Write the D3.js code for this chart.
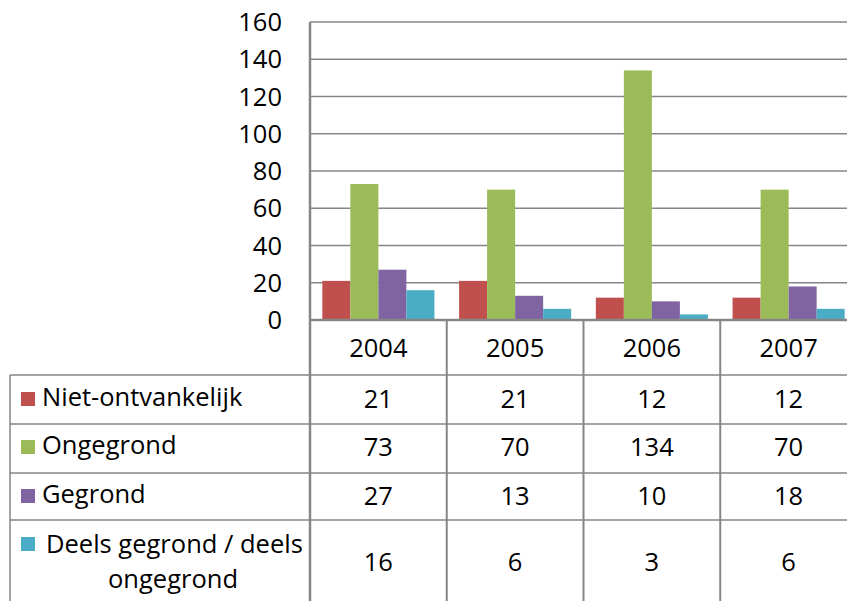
<!DOCTYPE html>
<html lang="nl">
<head>
  <meta charset="UTF-8">
  <title>Uitspraken</title>
  <script src="https://d3js.org/d3.v7.min.js"></script>
</head>
<body style="margin:0;background:#fff">
<script>
  // data
  const years = ["2004", "2005", "2006", "2007"];
  const seriesNames = ["Niet-ontvankelijk", "Ongegrond", "Gegrond", "Deels gegrond / deels ongegrond"];
  const seriesColors = ["#C0504D", "#9BBB59", "#8064A2", "#4BACC6"];
  const nietOntvankelijk = [21, 21, 12, 12];
  const ongegrond = [73, 70, 134, 70];
  const gegrond = [27, 13, 10, 18];
  const deelsGegrond = [16, 6, 3, 6];
  const yTicks = [0, 20, 40, 60, 80, 100, 120, 140, 160];

  const values = [nietOntvankelijk, ongegrond, gegrond, deelsGegrond];

  const W = 847, H = 601;
  const font = "'Open Sans', sans-serif";
  const fs = 25.5;
  const grid = "#868686";

  const svg = d3.select("body").append("svg")
      .attr("width", W).attr("height", H)
      .style("display", "block");

  const y = d3.scaleLinear().domain([0, 160]).range([320, 22]);
  const x0 = d3.scaleBand().domain(years).range([310, 857]).padding(0);
  const x1 = d3.scaleBand().domain(d3.range(4)).range([0, x0.bandwidth()])
      .paddingInner(0).paddingOuter(0.44);

  // gridlines
  svg.append("g").selectAll("line")
      .data(yTicks.filter(d => d > 0))
      .join("line")
      .attr("x1", 310).attr("x2", W)
      .attr("y1", d => y(d)).attr("y2", d => y(d))
      .attr("stroke", grid).attr("stroke-width", 1.5);

  // tick labels
  svg.append("g").selectAll("text")
      .data(yTicks)
      .join("text")
      .attr("x", 282).attr("y", d => y(d))
      .attr("dy", "0.36em")
      .attr("text-anchor", "end")
      .attr("font-family", font).attr("font-size", fs)
      .attr("fill", "#000")
      .text(d => d);

  // bars
  const groups = svg.append("g").selectAll("g")
      .data(years)
      .join("g")
      .attr("transform", d => `translate(${x0(d)},0)`);

  groups.selectAll("rect")
      .data((d, i) => values.map((s, k) => ({k: k, v: s[i]})))
      .join("rect")
      .attr("x", d => x1(d.k))
      .attr("width", x1.bandwidth())
      .attr("y", d => y(d.v))
      .attr("height", d => y(0) - y(d.v))
      .attr("fill", d => seriesColors[d.k]);

  // data table
  const rowTop = [320, 375, 424, 473, 520];
  const tbl = svg.append("g");

  // horizontal lines
  tbl.append("line").attr("x1", 310).attr("x2", W).attr("y1", 320).attr("y2", 320)
      .attr("stroke", grid).attr("stroke-width", 2.5);
  rowTop.slice(1).forEach(r => {
    tbl.append("line").attr("x1", 10).attr("x2", W).attr("y1", r).attr("y2", r)
        .attr("stroke", grid).attr("stroke-width", 1.5);
  });
  // vertical lines
  tbl.append("line").attr("x1", 10).attr("x2", 10).attr("y1", 375).attr("y2", H)
      .attr("stroke", grid).attr("stroke-width", 1.5);
  years.slice(1).forEach(yr => {
    tbl.append("line").attr("x1", x0(yr)).attr("x2", x0(yr)).attr("y1", 320).attr("y2", H)
        .attr("stroke", grid).attr("stroke-width", 2);
  });
  // value axis line
  tbl.append("line").attr("x1", 310).attr("x2", 310).attr("y1", 22).attr("y2", H)
      .attr("stroke", grid).attr("stroke-width", 2.5);

  // year labels
  tbl.selectAll(".yr").data(years).join("text")
      .attr("class", "yr")
      .attr("x", d => x0(d) + x0.bandwidth() / 2)
      .attr("y", (rowTop[0] + rowTop[1]) / 2)
      .attr("dy", "0.36em")
      .attr("text-anchor", "middle")
      .attr("font-family", font).attr("font-size", fs)
      .text(d => d);

  // rows
  const rowCenters = [399, 447, 496, 562];
  values.forEach((s, k) => {
    const cy = rowCenters[k];
    tbl.append("rect")
        .attr("x", 21).attr("width", 14)
        .attr("y", (k === 3 ? 537 : cy - 7)).attr("height", 14)
        .attr("fill", seriesColors[k]);
    if (k === 3) {
      tbl.append("text").attr("x", 46).attr("y", 544).attr("dy", "0.36em")
          .attr("font-family", font).attr("font-size", fs)
          .text("Deels gegrond / deels");
      tbl.append("text").attr("x", 173).attr("y", 579).attr("dy", "0.36em")
          .attr("text-anchor", "middle")
          .attr("font-family", font).attr("font-size", fs)
          .text("ongegrond");
    } else {
      tbl.append("text").attr("x", 42).attr("y", cy - 2).attr("dy", "0.36em")
          .attr("font-family", font).attr("font-size", fs)
          .text(seriesNames[k]);
    }
    tbl.selectAll(".v" + k).data(s).join("text")
        .attr("class", "v" + k)
        .attr("x", (d, i) => x0(years[i]) + x0.bandwidth() / 2)
        .attr("y", cy)
        .attr("dy", "0.36em")
        .attr("text-anchor", "middle")
        .attr("font-family", font).attr("font-size", fs)
        .text(d => d);
  });
</script>
</body>
</html>
